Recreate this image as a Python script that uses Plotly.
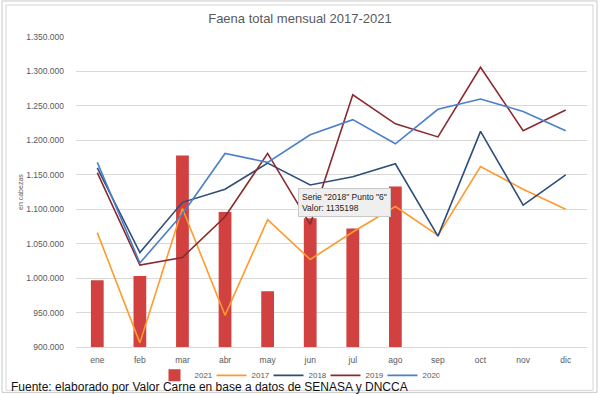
import plotly.graph_objects as go

months = ["ene", "feb", "mar", "abr", "may", "jun", "jul", "ago", "sep", "oct", "nov", "dic"]
y2021 = [997000, 1003000, 1178000, 1096000, 981000, 1087000, 1072000, 1133000]
y2017 = [1066000, 906000, 1101000, 946000, 1085000, 1027000, 1067000, 1104000, 1062000, 1162000, 1129000, 1100000]
y2018 = [1160000, 1037000, 1110000, 1129000, 1167000, 1135198, 1147000, 1166000, 1061000, 1213000, 1106000, 1150000]
y2019 = [1153000, 1019000, 1030000, 1089000, 1181000, 1078000, 1266000, 1224000, 1205000, 1306000, 1214000, 1244000]
y2020 = [1168000, 1022000, 1093000, 1181000, 1168000, 1208000, 1230000, 1195000, 1245000, 1260000, 1242000, 1214000]

W, H = 600, 394
L, R, T, B = 76, 587, 37, 346.7

def px(x):
    return (x - L) / (R - L)

def py(y):
    return (B - y) / (B - T)

grey = "#595959"
fig = go.Figure()
fig.add_bar(x=months[:len(y2021)], y=y2021, name="2021", marker_color="#D0413F",
            marker_line_width=0, width=0.3)
fig.add_scatter(x=months, y=y2017, name="2017", mode="lines", line=dict(color="#FF9A2E", width=1.6))
fig.add_scatter(x=months, y=y2018, name="2018", mode="lines", line=dict(color="#2E4D7B", width=1.6))
fig.add_scatter(x=months, y=y2019, name="2019", mode="lines", line=dict(color="#8A2A2E", width=1.6))
fig.add_scatter(x=months, y=y2020, name="2020", mode="lines", line=dict(color="#4A7FCB", width=1.6))

fig.update_layout(
    width=W, height=H,
    margin=dict(l=L, r=W - R, t=T, b=H - B, autoexpand=False),
    paper_bgcolor="white", plot_bgcolor="white",
    separators=",.",
    font=dict(family="Liberation Sans, Arial, sans-serif", color=grey, size=8),
    title=dict(text="Faena total mensual 2017-2021", x=0.5, xanchor="center",
               y=1 - 18 / H, yanchor="middle", font=dict(size=13, color=grey)),
    showlegend=True,
    legend=dict(orientation="h", x=px(297), xanchor="center", y=py(375), yanchor="middle",
                font=dict(size=8, color=grey), itemwidth=30, tracegroupgap=0,
                entrywidth=12, entrywidthmode="pixels",
                bgcolor="rgba(0,0,0,0)"),
    bargap=0.7,
)
fig.update_xaxes(range=[-0.5, len(months) - 0.5], showgrid=False, showline=True,
                 linecolor="#d9d9d9", linewidth=1,
                 ticks="", tickfont=dict(size=8.5, color=grey), ticklabelstandoff=5)
fig.update_yaxes(range=[900000, 1350000], dtick=50000, tickformat=",d",
                 showgrid=True, gridcolor="#d9d9d9", gridwidth=1, zeroline=False,
                 showline=False, ticks="", tickfont=dict(size=8.5, color=grey),
                 ticklabelstandoff=11)

fig.add_annotation(text="en cabezas", xref="paper", yref="paper", x=px(20), y=0.5,
                   textangle=-90, showarrow=False, font=dict(size=7, color=grey),
                   xanchor="center", yanchor="middle")
fig.add_annotation(text='Serie "2018" Punto "6"<br>Valor: 1135198', xref="paper", yref="paper",
                   x=px(298), y=py(188), xanchor="left", yanchor="top", align="left",
                   showarrow=False, font=dict(size=8.5, color="#222222"),
                   bgcolor="#efefef", bordercolor="#c8c8c8", borderwidth=1, borderpad=3)
fig.add_annotation(text="Fuente: elaborado por Valor Carne en base a datos de SENASA y DNCCA",
                   xref="paper", yref="paper", x=px(9), y=py(387), xanchor="left",
                   yanchor="middle", showarrow=False,
                   font=dict(size=12, color="#111111", family="Liberation Sans, Arial, sans-serif"))

fig.add_shape(type="rect", xref="paper", yref="paper", x0=px(2), x1=px(597), y0=py(392), y1=py(1),
              line=dict(color="#c8c8c8", width=1), layer="below")
fig.add_shape(type="rect", xref="paper", yref="paper", x0=px(6), x1=px(593), y0=py(390), y1=py(5),
              line=dict(color="#d6d6d6", width=1), layer="below")

fig.write_html("out.html", config={"displayModeBar": False},
               post_script="document.body.style.margin='0';")
